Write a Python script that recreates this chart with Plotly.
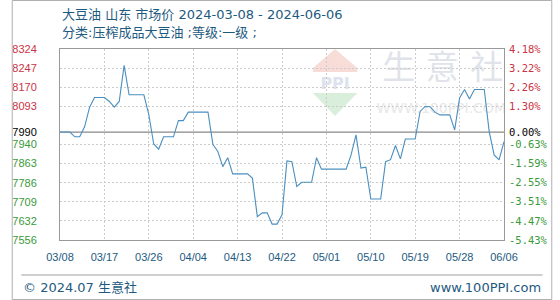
import plotly.graph_objects as go
import pandas as pd

# ---------------- data ----------------
start_date = "2024-03-08"
prices = [
    7990, 7990, 7990, 7971, 7971, 8012, 8090, 8129, 8129, 8129,
    8113, 8090, 8113, 8258, 8140, 8140, 8140, 8140, 8060, 7942,
    7921, 7971, 7971, 7971, 8036, 8036, 8070, 8070, 8070, 8070,
    8070, 7940, 7912, 7851, 7887, 7822, 7822, 7822, 7822, 7805,
    7650, 7665, 7665, 7620, 7620, 7657, 7874, 7871, 7771, 7788,
    7788, 7788, 7887, 7841, 7841, 7841, 7841, 7841, 7841, 7898,
    7979, 7845, 7849, 7721, 7721, 7721, 7871, 7879, 7936, 7882,
    7962, 7962, 7962, 8073, 8093, 8092, 8070, 8059, 8059, 8059,
    7999, 8127, 8161, 8123, 8161, 8161, 8161, 7992, 7898, 7878,
    7952,
]
dates = pd.date_range(start_date, periods=len(prices), freq="D")

base_price = 7990
y_min, y_max = 7556, 8324
grid_levels = [8324, 8247.2, 8170.4, 8093.6, 7940, 7863.2, 7786.4, 7709.6, 7632.8, 7556]
left_labels = ["8324", "8247", "8170", "8093", "7940", "7863", "7786", "7709", "7632", "7556"]

x_tick_dates = ["2024-03-08", "2024-03-17", "2024-03-26", "2024-04-04", "2024-04-13",
                "2024-04-22", "2024-05-01", "2024-05-10", "2024-05-19", "2024-05-28",
                "2024-06-06"]
x_tick_labels = ["03/08", "03/17", "03/26", "04/04", "04/13", "04/22",
                 "05/01", "05/10", "05/19", "05/28", "06/06"]

title_text = "大豆油 山东 市场价 2024-03-08 - 2024-06-06"
subtitle_text = "分类:压榨成品大豆油 ;等级:一级 ;"
footer_left = "© 2024.07 生意社"
footer_right = "www.100PPI.com"

# ---------------- styling ----------------
RED = "#cc3344"
GREEN = "#3a9a3a"
BLACK = "#000000"
TEXT_BLUE = "#1e5a80"
LINE_BLUE = "#4a8fc0"
GRID = "#cccccc"
FRAME = "#999999"


def col(v):
    if v > base_price:
        return RED
    if v < base_price:
        return GREEN
    return BLACK


tick_vals = grid_levels + [base_price]
left_text = [f"<span style='color:{col(v)}'>{t}</span>" for v, t in zip(grid_levels, left_labels)]
left_text.append(f"<span style='color:{BLACK}'>{base_price}</span>")
right_text = [f"<span style='color:{col(v)}'>{(v / base_price - 1) * 100:.2f}%</span>" for v in tick_vals]

W, H = 560, 300
L, R, T, B = 50, 50, 49, 60
PW, PH = W - L - R, H - T - B


def px(x):
    return (x - L) / PW


def py(y):
    return (H - B - y) / PH


fig = go.Figure()
fig.add_trace(go.Scatter(
    x=dates, y=prices, mode="lines",
    line=dict(color=LINE_BLUE, width=1.1),
    showlegend=False, hoverinfo="x+y",
))
fig.add_trace(go.Scatter(
    x=dates, y=prices, mode="lines", yaxis="y2",
    line=dict(color="rgba(0,0,0,0)", width=0),
    showlegend=False, hoverinfo="skip",
))

shapes = []
# baseline
shapes.append(dict(type="line", xref="paper", x0=0, x1=1, yref="y", y0=base_price, y1=base_price,
                   line=dict(color="#888888", width=1.2), layer="below"))
# watermark logo
shapes.append(dict(type="path", xref="paper", yref="paper", layer="below",
                   path=f"M {px(335)} {py(49)} L {px(358)} {py(68)} L {px(358)} {py(72)} "
                        f"L {px(312)} {py(72)} L {px(312)} {py(68)} Z",
                   fillcolor="#f7dcd7", line=dict(width=0)))
shapes.append(dict(type="path", xref="paper", yref="paper", layer="below",
                   path=f"M {px(312)} {py(93)} L {px(358)} {py(93)} L {px(335)} {py(116)} Z",
                   fillcolor="#d9eedb", line=dict(width=0)))
shapes.append(dict(type="rect", xref="paper", yref="paper", layer="below",
                   x0=px(312), x1=px(358), y0=py(91), y1=py(74),
                   line=dict(width=0), fillcolor="rgba(0,0,0,0)",
                   label=dict(text="<b>PPI</b>", font=dict(family="DejaVu Sans", size=16, color="#dde3ee"),
                              textposition="middle center")))
# watermark text
for ch, cx in zip("生意社", [401, 446, 492]):
    shapes.append(dict(type="rect", xref="paper", yref="paper", layer="below",
                       x0=px(cx - 20), x1=px(cx + 20), y0=py(90), y1=py(50),
                       line=dict(width=0), fillcolor="rgba(0,0,0,0)",
                       label=dict(text=ch, font=dict(family="Noto Sans CJK SC", size=33, color="#e0e3ea"),
                                  textposition="middle center")))
shapes.append(dict(type="rect", xref="paper", yref="paper", layer="below",
                   x0=px(380), x1=px(510), y0=py(115), y1=py(99),
                   line=dict(width=0), fillcolor="rgba(0,0,0,0)",
                   label=dict(text="WWW.100PPI.COM", font=dict(family="DejaVu Sans", size=14, color="#e8e8e8"),
                              textposition="middle center")))
# footer separator and outer frame
shapes.append(dict(type="line", xref="paper", yref="paper", x0=px(10), x1=px(550), y0=py(275), y1=py(275),
                   line=dict(color="#a0a0a0", width=1)))
shapes.append(dict(type="rect", xref="paper", yref="paper", x0=px(0.5), x1=px(559.5), y0=py(299.5), y1=py(0.5),
                   line=dict(color="#b0b0b0", width=1), fillcolor="rgba(0,0,0,0)"))

annotations = [
    dict(text=title_text, xref="paper", yref="paper", x=px(50), y=py(15), xanchor="left", yanchor="middle",
         showarrow=False, font=dict(family="DejaVu Sans, Noto Sans CJK SC", size=13, color=TEXT_BLUE)),
    dict(text=subtitle_text, xref="paper", yref="paper", x=px(50), y=py(33), xanchor="left", yanchor="middle",
         showarrow=False, font=dict(family="DejaVu Sans, Noto Sans CJK SC", size=13, color=TEXT_BLUE)),
    dict(text=footer_left, xref="paper", yref="paper", x=px(10), y=py(287), xanchor="left", yanchor="middle",
         showarrow=False, font=dict(family="DejaVu Sans, Noto Sans CJK SC", size=13, color=TEXT_BLUE)),
    dict(text=footer_right, xref="paper", yref="paper", x=px(550), y=py(287), xanchor="right", yanchor="middle",
         showarrow=False, font=dict(family="DejaVu Sans", size=13, color=TEXT_BLUE)),
]

fig.update_layout(
    width=W, height=H,
    margin=dict(l=L, r=R, t=T, b=B, pad=0),
    paper_bgcolor="white", plot_bgcolor="white",
    shapes=shapes, annotations=annotations,
    xaxis=dict(
        type="date", range=[dates[0], dates[-1]],
        tickmode="array", tickvals=x_tick_dates, ticktext=x_tick_labels,
        showgrid=True, gridcolor=GRID, griddash="2px,2px", gridwidth=1,
        showline=True, linecolor=FRAME, linewidth=1, mirror=True,
        ticks="", ticklabelstandoff=7,
        tickfont=dict(family="Liberation Sans", size=11, color=TEXT_BLUE),
        zeroline=False, fixedrange=True,
    ),
    yaxis=dict(
        range=[y_min, y_max],
        tickmode="array", tickvals=tick_vals, ticktext=left_text,
        showgrid=False,
        minor=dict(tickmode="array", tickvals=grid_levels, showgrid=True,
                   gridcolor=GRID, griddash="2px,2px", gridwidth=1, ticks=""),
        showline=True, linecolor=FRAME, linewidth=1, mirror=True,
        ticks="", ticklabelstandoff=20,
        tickfont=dict(family="Liberation Sans", size=11),
        zeroline=False, fixedrange=True,
    ),
    yaxis2=dict(
        range=[y_min, y_max], overlaying="y", side="right",
        tickmode="array", tickvals=tick_vals, ticktext=right_text,
        showgrid=False, showline=False, zeroline=False,
        ticks="", ticklabelstandoff=4,
        tickfont=dict(family="DejaVu Sans Mono", size=10.5),
        fixedrange=True,
    ),
)

fig.write_html("out.html")
